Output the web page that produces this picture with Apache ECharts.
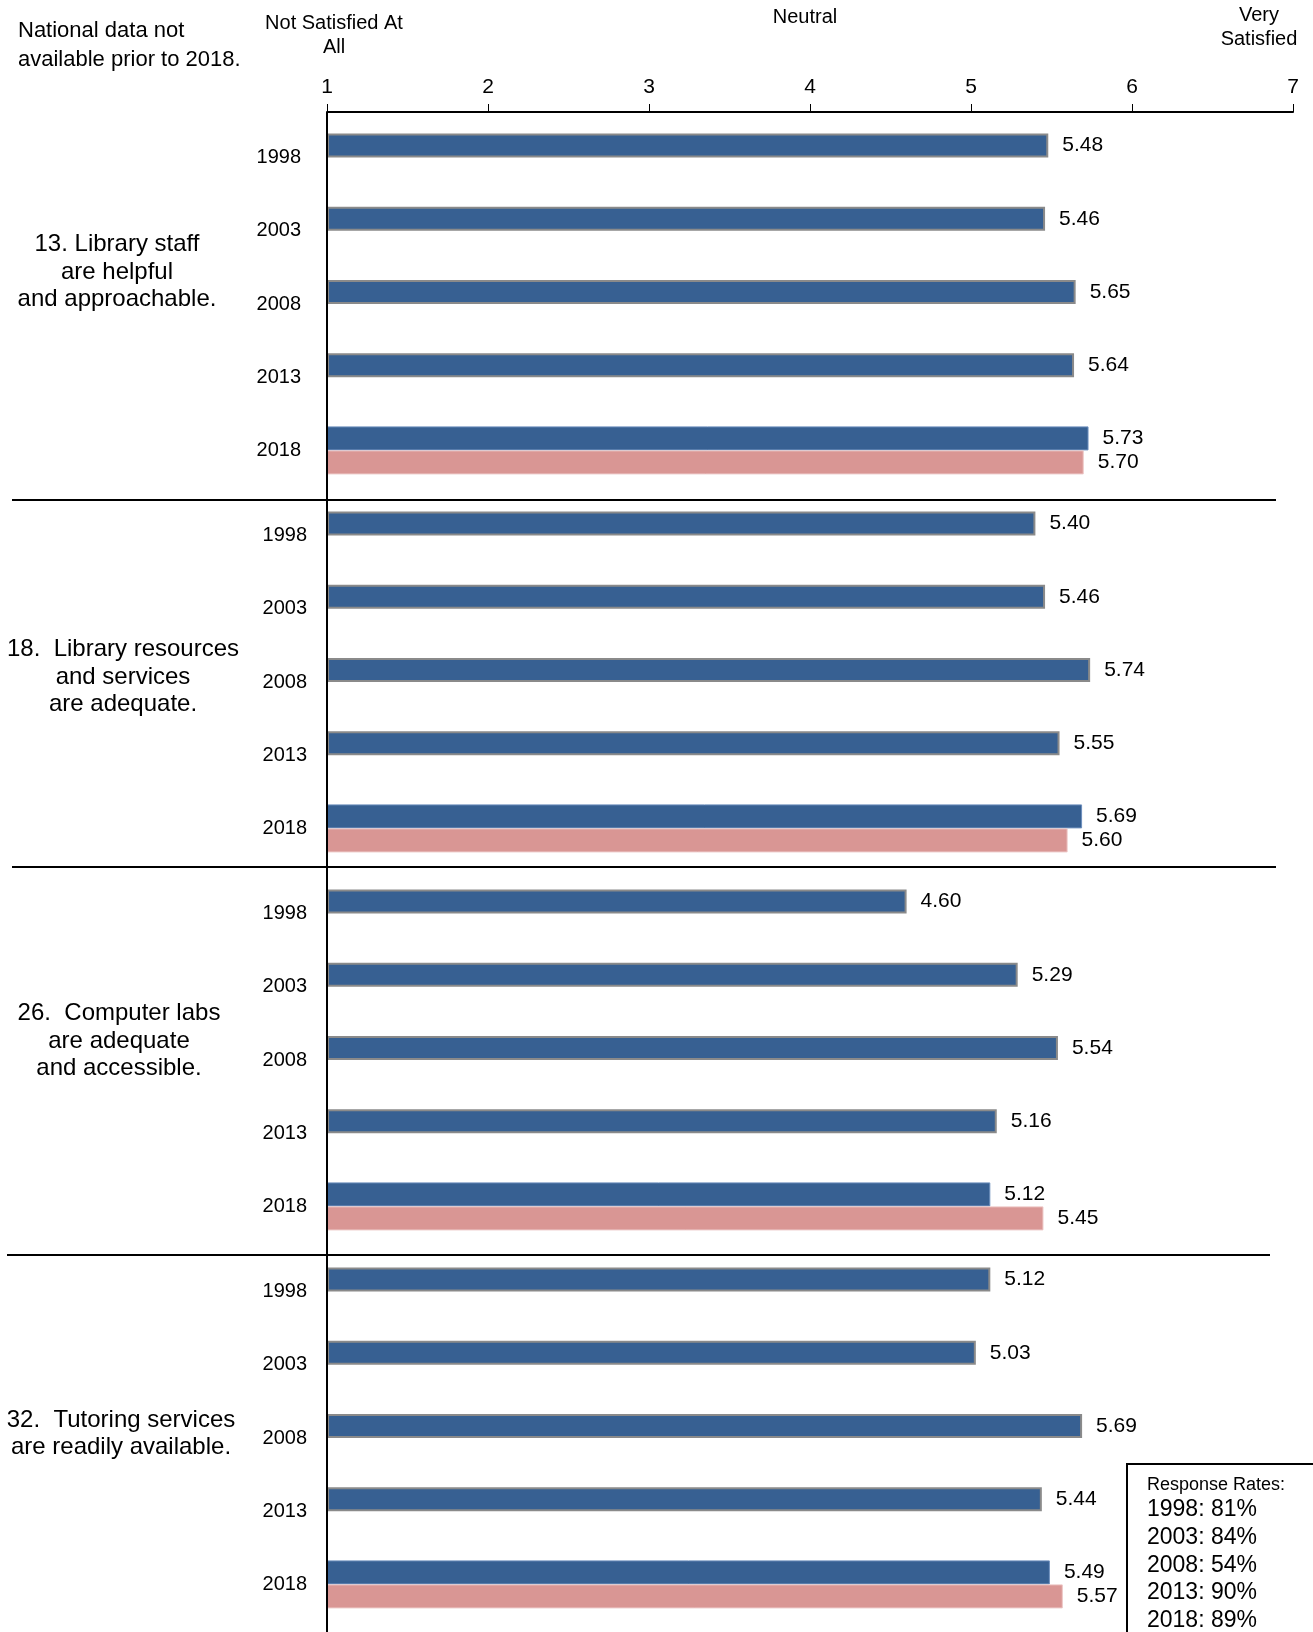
<!DOCTYPE html>
<html>
<head>
<meta charset="utf-8">
<script src="https://cdn.jsdelivr.net/npm/echarts@6/dist/echarts.min.js"></script>
<style>
  html, body { margin: 0; padding: 0; background: #fff; }
  #chart { width: 1313px; height: 1632px; }
</style>
</head>
<body>
<div id="chart"></div>
<script>
// --- data ---
const years = ['1998', '2003', '2008', '2013', '2018'];
const questions = [
  '13. Library staff\nare helpful\nand approachable.',
  '18.  Library resources\nand services\nare adequate.',
  '26.  Computer labs\nare adequate\nand accessible.',
  '32.  Tutoring services\nare readily available.'
];
const q13 = [5.48, 5.46, 5.65, 5.64, 5.73];
const q18 = [5.40, 5.46, 5.74, 5.55, 5.69];
const q26 = [4.60, 5.29, 5.54, 5.16, 5.12];
const q32 = [5.12, 5.03, 5.69, 5.44, 5.49];
const national2018 = [5.70, 5.60, 5.45, 5.57];
const scaleTicks = [1, 2, 3, 4, 5, 6, 7];
const responseRates = ['1998: 81%', '2003: 84%', '2008: 54%', '2013: 90%', '2018: 89%'];

// --- layout ---
const FONT = '"Liberation Sans", Arial, sans-serif';
const GRID_LEFT = 327;
const GRID_RIGHT = 20;
const GRID_H = 366;
const gridTops = [121, 499, 877, 1255];
const labelMargins = [26, 20, 20, 20];
const groupLabelPos = [[117, 272], [123, 677], [119, 1041], [121, 1434]];
const separators = [[12, 500, 1276], [12, 867, 1276], [7, 1255, 1270]];

const BLUE = '#376092';
const PINK = '#D99694';

const groups = [q13, q18, q26, q32];
const chart = echarts.init(document.getElementById('chart'));

const grids = [], xAxes = [], yAxes = [], series = [];
const valueLabel = {
  show: true,
  position: 'right',
  distance: 14,
  fontSize: 21,
  color: '#000',
  fontFamily: FONT,
  formatter: p => p.value.toFixed(2)
};

groups.forEach((vals, i) => {
  grids.push({ left: GRID_LEFT, right: GRID_RIGHT, top: gridTops[i], height: GRID_H, outerBoundsMode: 'none' });
  xAxes.push({
    gridIndex: i,
    type: 'value',
    min: scaleTicks[0],
    max: scaleTicks[scaleTicks.length - 1],
    interval: 1,
    startValue: 1,
    show: i === 0,
    position: 'top',
    offset: 9,
    axisLine: { show: true, lineStyle: { color: '#000', width: 2 } },
    axisTick: { show: true, length: 8, lineStyle: { color: '#000', width: 1 } },
    axisLabel: { fontSize: 21, color: '#000', margin: 14, fontFamily: FONT },
    splitLine: { show: false }
  });
  yAxes.push({
    gridIndex: i,
    type: 'category',
    data: years,
    inverse: true,
    axisLine: { show: false },
    axisTick: { show: false },
    axisLabel: { fontSize: 20, color: '#000', margin: labelMargins[i], fontFamily: FONT }
  });
  // campus results
  series.push({
    type: 'bar',
    xAxisIndex: i,
    yAxisIndex: i,
    barWidth: 24,
    barGap: '0%',
    clip: true,
    data: vals.map((v, j) => ({
      value: v,
      itemStyle: j === 4
        ? { color: BLUE, borderColor: '#6d8fbd', borderWidth: 1 }
        : { color: BLUE, borderColor: '#8a8a8a', borderWidth: 2 }
    })),
    label: valueLabel,
    silent: true
  });
  // national, 2018 only
  series.push({
    type: 'bar',
    xAxisIndex: i,
    yAxisIndex: i,
    barWidth: 24,
    barGap: '0%',
    clip: true,
    data: years.map((y, j) => (j === 4 ? national2018[i] : null)),
    itemStyle: { color: PINK, borderColor: '#ecc4c3', borderWidth: 1 },
    label: valueLabel,
    silent: true
  });
});

// --- annotations ---
const graphics = [];
const txt = (text, x, y, size, align, lineHeight) => ({
  type: 'text', x, y, z: 100,
  style: {
    text, fill: '#000', fontSize: size, fontFamily: FONT,
    align: align || 'center', verticalAlign: 'middle',
    lineHeight: lineHeight || Math.round(size * 1.15)
  }
});

questions.forEach((q, i) => {
  graphics.push(txt(q, groupLabelPos[i][0], groupLabelPos[i][1], 24, 'center', 27.5));
});

graphics.push(txt('National data not\navailable prior to 2018.', 18, 45, 22, 'left', 29));
graphics.push(txt('Not Satisfied At\nAll', 334, 35, 20, 'center', 24));
graphics.push(txt('Neutral', 805, 17, 20, 'center'));
graphics.push(txt('Very\nSatisfied', 1259, 27, 20, 'center', 24));

// vertical axis line running through all groups
graphics.push({
  type: 'line', z: 100,
  shape: { x1: GRID_LEFT, y1: 112, x2: GRID_LEFT, y2: 1632 },
  style: { stroke: '#000', lineWidth: 2 }
});
separators.forEach(s => {
  graphics.push({
    type: 'line', z: 100,
    shape: { x1: s[0], y1: s[1], x2: s[2], y2: s[1] },
    style: { stroke: '#000', lineWidth: 2 }
  });
});

// response rate box
graphics.push({
  type: 'rect', z: 100,
  shape: { x: 1127, y: 1464, width: 220, height: 200 },
  style: { fill: '#fff', stroke: '#000', lineWidth: 2 }
});
graphics.push(Object.assign(txt('Response Rates:', 1147, 1485, 18, 'left'), { z: 101 }));
responseRates.forEach((r, k) => {
  graphics.push(Object.assign(txt(r, 1147, 1510 + k * 27.6, 23, 'left'), { z: 101 }));
});

chart.setOption({
  animation: false,
  backgroundColor: '#fff',
  textStyle: { fontFamily: FONT },
  grid: grids,
  xAxis: xAxes,
  yAxis: yAxes,
  series: series,
  graphic: graphics
});
</script>
</body>
</html>
